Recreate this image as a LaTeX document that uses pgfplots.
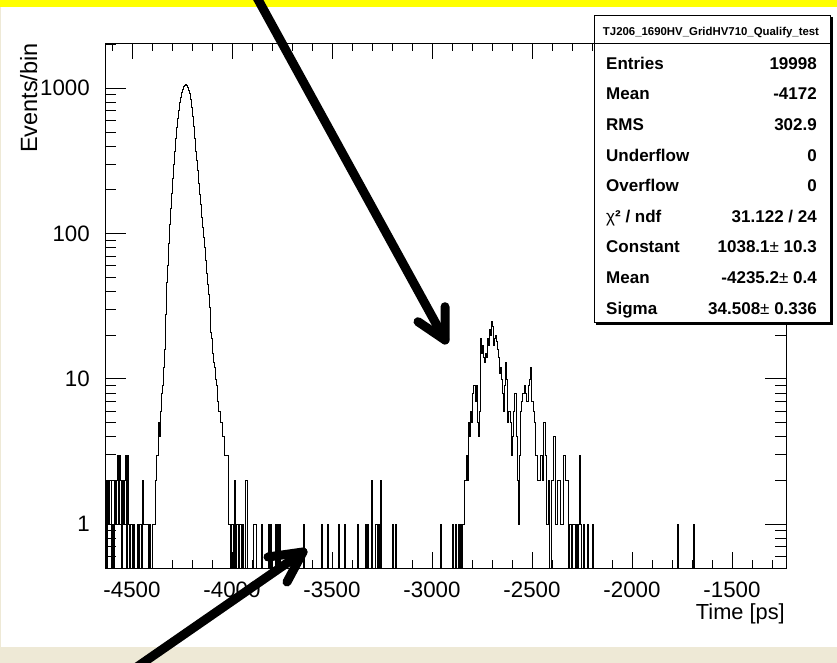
\documentclass[border=0pt]{standalone}
\usepackage{fontspec}
\setmainfont{Liberation Sans}
\usepackage{pgfplots}
\pgfplotsset{compat=1.18}
\definecolor{frameyellow}{RGB}{255,255,0}
\definecolor{framebeige}{RGB}{238,233,214}

\begin{document}
\begin{tikzpicture}
\begin{scope}[x=1pt,y=1pt]
\useasboundingbox (0,0) rectangle (837,663);
\fill[white] (0,0) rectangle (837,663);
\fill[framebeige] (0,0) rectangle (837,16.3);
\fill[framebeige] (0,0) rectangle (1.2,663);
\fill[frameyellow] (0,656.3) rectangle (837,663);
\end{scope}

\begin{axis}[at={(105pt,95pt)}, anchor=south west, scale only axis,
  width=681pt, height=525pt,
  xmin=-4635, xmax=-1230, ymode=log, ymin=0.5, ymax=2050,
  xtick={-4500,-4000,-3500,-3000,-2500,-2000,-1500},
  xticklabels={-4500,-4000,-3500,-3000,-2500,-2000,-1500},
  minor xtick={-4600,-4400,-4300,-4200,-4100,-3900,-3800,-3700,-3600,-3400,-3300,-3200,-3100,-2900,-2800,-2700,-2600,-2400,-2300,-2200,-2100,-1900,-1800,-1700,-1600,-1400,-1300},
  ytick={1,10,100,1000}, yticklabels={1,10,100,1000},
  minor ytick={0.6,0.7,0.8,0.9,2,3,4,5,6,7,8,9,20,30,40,50,60,70,80,90,200,300,400,500,600,700,800,900,2000},
  tick align=inside,
  xtick style={/pgfplots/major tick length=16pt,/pgfplots/minor tick length=8pt,line width=0.9pt,black},
  ytick style={/pgfplots/major tick length=21pt,/pgfplots/minor tick length=11pt,line width=0.9pt,black},
  axis line style={line width=0.9pt},
  xticklabel style={font=\fontsize{22.3}{26}\selectfont, inner sep=0pt, anchor=north, yshift=-13.7pt},
  yticklabel style={font=\fontsize{22.3}{26}\selectfont, inner sep=0pt, anchor=east, xshift=-15pt},
]
\addplot[const plot, black, line width=0.8pt, mark=none] table[x=t,y=n] {
t n
-4635 2
-4630 0.1
-4625 2
-4620 1
-4615 2
-4610 2
-4605 0.1
-4600 1
-4595 0.1
-4590 2
-4585 1
-4580 2
-4575 3
-4570 1
-4565 3
-4560 2
-4555 0.1
-4550 2
-4545 1
-4540 2
-4535 3
-4530 0.1
-4525 3
-4520 1
-4515 0.1
-4510 1
-4505 1
-4500 0.1
-4495 1
-4490 0.1
-4475 1
-4470 0.1
-4465 1
-4460 1
-4455 0.1
-4450 2
-4445 1
-4440 1
-4435 1
-4430 1
-4425 1
-4420 0.1
-4415 1
-4410 0.1
-4400 1
-4395 1
-4390 1
-4385 2
-4380 3
-4375 3
-4370 5
-4365 4
-4360 6
-4355 8
-4350 9
-4345 12
-4340 16
-4335 28
-4330 46
-4325 60
-4320 85
-4315 115
-4310 150
-4305 190
-4300 240
-4295 300
-4290 370
-4285 450
-4280 541
-4275 620
-4270 710
-4265 800
-4260 870
-4255 930
-4250 990
-4245 1030
-4240 1055
-4235 1066
-4230 1050
-4225 1010
-4220 960
-4215 920
-4210 840
-4205 740
-4200 640
-4195 550
-4190 450
-4185 370
-4180 320
-4175 272
-4170 220
-4165 185
-4160 160
-4155 130
-4150 110
-4145 94
-4140 80
-4135 65
-4130 53
-4125 45
-4120 38
-4115 31
-4110 21
-4105 19
-4100 15
-4095 13
-4090 12
-4085 10
-4080 9
-4075 7
-4070 6
-4065 6
-4060 5
-4055 5
-4050 4
-4045 4
-4040 3
-4035 3
-4030 3
-4025 3
-4020 1
-4015 1
-4010 0.1
-4005 1
-4000 1
-3995 0.1
-3990 2
-3985 0.1
-3980 1
-3975 1
-3970 0.1
-3965 1
-3960 1
-3955 0.1
-3950 1
-3945 0.1
-3935 2
-3930 2
-3925 0.1
-3895 1
-3890 1
-3885 1
-3880 0.1
-3855 1
-3850 0.1
-3820 1
-3815 0.1
-3810 1
-3805 0.1
-3785 1
-3780 0.1
-3775 1
-3770 0.1
-3765 1
-3760 0.1
-3645 1
-3640 0.1
-3555 1
-3550 0.1
-3525 1
-3520 0.1
-3470 1
-3465 0.1
-3440 1
-3435 0.1
-3375 1
-3370 0.1
-3335 1
-3330 0.1
-3325 1
-3320 0.1
-3305 2
-3300 0.1
-3285 1
-3280 1
-3275 0.1
-3270 1
-3265 0.1
-3260 2
-3255 0.1
-3200 1
-3195 0.1
-3185 1
-3180 0.1
-2960 1
-2955 0.1
-2900 1
-2895 0.1
-2885 1
-2880 0.1
-2870 1
-2865 0.1
-2860 1
-2855 0.1
-2850 1
-2845 1
-2840 2
-2835 2
-2830 3
-2825 2
-2820 5
-2815 4
-2810 6
-2805 5
-2800 8
-2795 9
-2790 9
-2785 7
-2780 9
-2775 5
-2770 4
-2765 6
-2760 19
-2755 15
-2750 17
-2745 14
-2740 13
-2735 15
-2730 14
-2725 19
-2720 17
-2715 22
-2710 20
-2705 25
-2700 23
-2695 17
-2690 19
-2685 20
-2680 18
-2675 16
-2670 14
-2665 11
-2660 12
-2655 10
-2650 8
-2645 6
-2640 9
-2635 13
-2630 10
-2625 5
-2620 6
-2615 6
-2610 5
-2605 3
-2600 4
-2595 6
-2590 8
-2585 8
-2580 4
-2575 2
-2570 1
-2565 3
-2560 6
-2555 7
-2550 8
-2545 8
-2540 9
-2535 8
-2530 7
-2525 7
-2520 9
-2515 10
-2510 12
-2505 7
-2500 7
-2495 6
-2490 5
-2485 3
-2480 3
-2475 2
-2470 2
-2465 2
-2460 3
-2455 3
-2450 2
-2445 5
-2440 5
-2435 3
-2430 1
-2425 1
-2420 2
-2415 0.1
-2405 2
-2400 2
-2395 4
-2390 4
-2385 1
-2380 1
-2375 2
-2370 2
-2365 2
-2360 1
-2355 1
-2350 1
-2345 3
-2340 3
-2335 2
-2330 2
-2325 2
-2320 0.1
-2315 1
-2310 1
-2305 0.1
-2300 1
-2295 1
-2290 1
-2285 0.1
-2280 1
-2275 0.1
-2270 1
-2265 3
-2260 1
-2255 0.1
-2245 1
-2240 0.1
-2225 1
-2220 0.1
-2200 1
-2195 0.1
-1775 1
-1770 0.1
-1695 1
-1690 0.1
-1230 0.1
};
\end{axis}

\begin{scope}[x=1pt,y=1pt]
% axis titles
\node[rotate=90, anchor=base east, inner sep=0pt, font=\fontsize{23.5}{27}\selectfont] at (37,620) {Events/bin};
\node[anchor=base east, inner sep=0pt, font=\fontsize{21.8}{26}\selectfont] at (785,43) {Time [ps]};
% stats box
\fill[black] (596,338.3) rectangle (832.5,646);
\filldraw[fill=white, draw=black, line width=0.9pt] (594,340.3) rectangle (830.5,648);
\draw[line width=0.9pt] (594,619.7) -- (830.5,619.7);
\node[anchor=center, inner sep=0pt, font=\fontsize{11.4}{13}\selectfont\bfseries] at (711,630.5) {TJ206\_1690HV\_GridHV710\_Qualify\_test};
\begin{scope}[every node/.style={inner sep=0pt, font=\fontsize{17}{20}\selectfont\bfseries}]
\node[anchor=base west] at (606,593.7) {Entries};
\node[anchor=base east] at (817,593.7) {19998};
\node[anchor=base west] at (606,563.1) {Mean};
\node[anchor=base east] at (817,563.1) {-4172};
\node[anchor=base west] at (606,532.5) {RMS};
\node[anchor=base east] at (817,532.5) {302.9};
\node[anchor=base west] at (606,501.9) {Underflow};
\node[anchor=base east] at (817,501.9) {0};
\node[anchor=base west] at (606,471.3) {Overflow};
\node[anchor=base east] at (817,471.3) {0};
\node[anchor=base west] at (606,440.7) {{\mdseries χ}² / ndf};
\node[anchor=base east] at (817,440.7) {31.122 / 24};
\node[anchor=base west] at (606,410.1) {Constant};
\node[anchor=base east] at (817,410.1) {1038.1{\mdseries ±} 10.3};
\node[anchor=base west] at (606,379.5) {Mean};
\node[anchor=base east] at (817,379.5) {-4235.2{\mdseries ±} 0.4};
\node[anchor=base west] at (606,348.9) {Sigma};
\node[anchor=base east] at (817,348.9) {34.508{\mdseries ±} 0.336};
\end{scope}
% annotation arrows
\begin{scope}
\clip (0,0) rectangle (837,663);
\draw[line width=9pt, line cap=round, line join=round] (252.8,673) -- (445,323);
\draw[line width=9pt, line cap=round, line join=round] (445,356.3) -- (445,323) -- (418,341.3);
\draw[line width=9pt, line cap=round, line join=round] (128.2,-10) -- (303,111);
\draw[line width=9pt, line cap=round, line join=round] (268,106) -- (303,111) -- (287,81);
\end{scope}
\end{scope}
\end{tikzpicture}
\end{document}
